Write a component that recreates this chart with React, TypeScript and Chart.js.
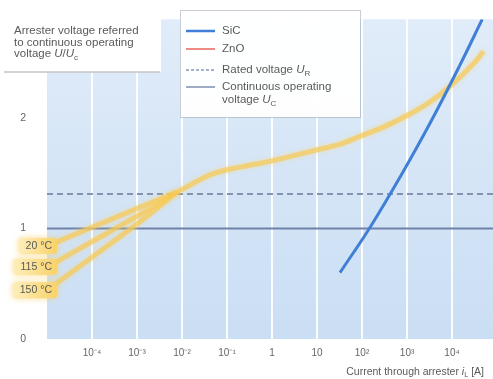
import React, { useEffect, useRef } from "react";
import { Chart, registerables } from "chart.js";
Chart.register(...registerables);

// ---- data (x values are decimal exponents of the current in A) ----
const xTickValues = [1e-4, 1e-3, 1e-2, 1e-1, 1, 10, 100, 1000, 10000];
const xTickLabels = ["10⁻⁴", "10⁻³", "10⁻²", "10⁻¹", "1", "10", "10²", "10³", "10⁴"];
const yTickValues = [0, 1, 2];

const zno20Exp = [-5, -4, -3, -2.1];
const zno20 = [0.84, 1.01, 1.18, 1.33];
const zno115Exp = [-5, -4, -3, -2.1];
const zno115 = [0.65, 0.88, 1.11, 1.33];
const zno150Exp = [-5, -4, -3, -2.1];
const zno150 = [0.44, 0.74, 1.04, 1.33];
const znoExp = [-2.1, -1.4, -1, -0.5, 0, 0.5, 1, 1.5, 2, 2.5, 3, 3.5, 4, 4.5, 4.7];
const zno = [1.33, 1.48, 1.53, 1.57, 1.61, 1.66, 1.71, 1.76, 1.84, 1.92, 2.02, 2.14, 2.3, 2.5, 2.6];
const sicExp = [1.51, 2.18, 2.84, 3.51, 4.18, 4.67];
const sic = [0.6, 1.01, 1.46, 1.95, 2.48, 2.89];
const ratedVoltage = 1.31;
const contVoltage = 1;
const tempLabels = ["20 °C", "115 °C", "150 °C"];

const FONT = '"Liberation Sans", Arial, sans-serif';
const TEXT = "#5a5a5a";
const X_MIN = 1e-5;
const X_MAX = Math.pow(10, 4.91);

const pts = (ex: number[], ys: number[]) => ex.map((e, i) => ({ x: Math.pow(10, e), y: ys[i] }));

type Part = { t: string; it?: boolean; sub?: boolean };
function drawRich(ctx: CanvasRenderingContext2D, parts: Part[], x: number, y: number, size: number, align: "left" | "right" = "left") {
  const fontFor = (p: Part) => `${p.it ? "italic " : ""}${p.sub ? size * 0.7 : size}px ${FONT}`;
  let total = 0;
  for (const p of parts) { ctx.font = fontFor(p); total += ctx.measureText(p.t).width; }
  let cx = align === "right" ? x - total : x;
  ctx.textAlign = "left";
  ctx.textBaseline = "middle";
  for (const p of parts) {
    ctx.font = fontFor(p);
    ctx.fillText(p.t, cx, p.sub ? y + size * 0.3 : y);
    cx += ctx.measureText(p.t).width;
  }
}

const bgPlugin = {
  id: "bg",
  beforeDraw(chart: any) {
    const { ctx, chartArea: a } = chart;
    ctx.save();
    const g = ctx.createLinearGradient(0, a.top, 0, a.bottom);
    g.addColorStop(0, "#e0ecf9");
    g.addColorStop(1, "#cadef4");
    ctx.fillStyle = g;
    ctx.fillRect(a.left, a.top, a.right - a.left, a.bottom - a.top);
    ctx.restore();
  },
};

const glowPlugin = {
  id: "glow",
  beforeDatasetDraw(chart: any, args: any) {
    const ds = chart.data.datasets[args.index];
    if (ds.label && String(ds.label).startsWith("ZnO")) {
      chart.ctx.save();
      chart.ctx.shadowColor = "rgba(252,214,110,0.9)";
      chart.ctx.shadowBlur = 4;
    }
  },
  afterDatasetDraw(chart: any, args: any) {
    const ds = chart.data.datasets[args.index];
    if (ds.label && String(ds.label).startsWith("ZnO")) chart.ctx.restore();
  },
};

const overlayPlugin = {
  id: "overlay",
  afterDraw(chart: any) {
    const { ctx } = chart;
    const ys = chart.scales.y;
    ctx.save();
    // y-axis title box
    ctx.fillStyle = "#ffffff";
    ctx.fillRect(0, 0, 161, 72);
    ctx.strokeStyle = "#c4c4c4";
    ctx.lineWidth = 1.5;
    ctx.beginPath(); ctx.moveTo(4, 72); ctx.lineTo(160, 72); ctx.stroke();
    ctx.fillStyle = TEXT;
    drawRich(ctx, [{ t: "Arrester voltage referred" }], 14, 31, 11.5);
    drawRich(ctx, [{ t: "to continuous operating" }], 14, 42.5, 11.5);
    drawRich(ctx, [{ t: "voltage " }, { t: "U", it: true }, { t: "/" }, { t: "U", it: true }, { t: "c", sub: true }], 14, 54, 11.5);

    // legend box
    ctx.fillStyle = "rgba(255,255,255,0.96)";
    ctx.fillRect(180, 10, 180, 107);
    ctx.strokeStyle = "rgba(150,160,175,0.5)";
    ctx.lineWidth = 1;
    ctx.strokeRect(180.5, 10.5, 180, 107);
    const item = (y: number, color: string, w: number, dash: number[]) => {
      ctx.strokeStyle = color; ctx.lineWidth = w; ctx.setLineDash(dash);
      ctx.beginPath(); ctx.moveTo(186, y); ctx.lineTo(215, y); ctx.stroke();
      ctx.setLineDash([]);
    };
    item(31, "#3f7fd6", 2.5, []);
    item(49, "#ee8c84", 2, []);
    item(70, "#8a98b2", 1.5, [3, 2]);
    item(87, "#7d8fb0", 1.5, []);
    ctx.fillStyle = TEXT;
    drawRich(ctx, [{ t: "SiC" }], 222, 31, 11.5);
    drawRich(ctx, [{ t: "ZnO" }], 222, 49, 11.5);
    drawRich(ctx, [{ t: "Rated voltage " }, { t: "U", it: true }, { t: "R", sub: true }], 222, 70, 11.5);
    drawRich(ctx, [{ t: "Continuous operating" }], 222, 87, 11.5);
    drawRich(ctx, [{ t: "voltage " }, { t: "U", it: true }, { t: "C", sub: true }], 222, 100, 11.5);

    // temperature labels
    const starts = [zno20[0], zno115[0], zno150[0]];
    tempLabels.forEach((lab, i) => {
      const cy = ys.getPixelForValue(starts[i]);
      ctx.font = `10.5px ${FONT}`;
      const tw = ctx.measureText(lab).width;
      const right = 57;
      const left = right - tw - 12;
      const g = ctx.createLinearGradient(left, 0, right, 0);
      g.addColorStop(0, "rgba(253,238,185,1)");
      g.addColorStop(1, "rgba(249,210,105,1)");
      ctx.shadowColor = "rgba(248,205,90,0.7)";
      ctx.shadowBlur = 6;
      ctx.fillStyle = g;
      ctx.beginPath();
      (ctx as any).roundRect(left, cy - 8, right - left, 16, 3);
      ctx.fill();
      ctx.shadowBlur = 0;
      ctx.fillStyle = TEXT;
      drawRich(ctx, [{ t: lab }], right - 5, cy, 10.5, "right");
    });

    // x-axis title
    ctx.fillStyle = TEXT;
    drawRich(ctx, [{ t: "Current through arrester " }, { t: "i", it: true }, { t: "L", sub: true }, { t: " [A]" }], 484, 372, 10.5, "right");
    ctx.restore();
  },
};

export default function App() {
  const ref = useRef<HTMLCanvasElement>(null);
  useEffect(() => {
    const yellow = "rgba(247,198,78,0.62)";
    const chart = new Chart(ref.current!, {
      type: "line",
      data: {
        datasets: [
          { label: "SiC", data: pts(sicExp, sic), borderColor: "#3f7fd6", borderWidth: 3, tension: 0.4, order: 0 },
          { label: "ZnO", data: pts(znoExp, zno), borderColor: yellow, borderWidth: 5, tension: 0.4, order: 1 },
          { label: "ZnO 20", data: pts(zno20Exp, zno20), borderColor: yellow, borderWidth: 5, tension: 0.3, order: 1 },
          { label: "ZnO 115", data: pts(zno115Exp, zno115), borderColor: yellow, borderWidth: 5, tension: 0.3, order: 1 },
          { label: "ZnO 150", data: pts(zno150Exp, zno150), borderColor: yellow, borderWidth: 5, tension: 0.3, order: 1 },
          { label: "Rated voltage", data: [{ x: X_MIN, y: ratedVoltage }, { x: X_MAX, y: ratedVoltage }], borderColor: "#8593ae", borderWidth: 2, borderDash: [6, 4], order: 2 },
          { label: "Continuous operating voltage", data: [{ x: X_MIN, y: contVoltage }, { x: X_MAX, y: contVoltage }], borderColor: "#6f82a8", borderWidth: 2, order: 2 },
        ],
      },
      options: {
        responsive: false,
        animation: false,
        events: [],
        elements: { point: { radius: 0 } },
        layout: { padding: { top: 10, right: 0, left: 0, bottom: 0 } },
        plugins: { legend: { display: false }, tooltip: { enabled: false } },
        scales: {
          x: {
            type: "logarithmic",
            min: X_MIN,
            max: X_MAX,
            afterBuildTicks: (s: any) => { s.ticks = xTickValues.map((v) => ({ value: v })); },
            afterFit: (s: any) => { s.height = 40; },
            ticks: {
              autoSkip: false,
              maxRotation: 0,
              padding: 8,
              color: "#666",
              font: { family: FONT, size: 10 },
              callback: (_v: any, i: number) => xTickLabels[i],
            },
            grid: { color: "rgba(255,255,255,0.9)", lineWidth: 2, drawTicks: false },
            border: { display: false },
          },
          y: {
            type: "linear",
            min: 0,
            max: 2.89,
            afterBuildTicks: (s: any) => { s.ticks = yTickValues.map((v) => ({ value: v })); },
            afterFit: (s: any) => { s.width = 47; },
            ticks: { padding: 13, color: "#666", font: { family: FONT, size: 10.5 } },
            grid: { display: false },
            border: { display: false },
          },
        },
      },
      plugins: [bgPlugin, glowPlugin, overlayPlugin],
    } as any);
    return () => chart.destroy();
  }, []);
  return (
    <div style={{ position: "absolute", left: 0, top: 0, width: 493, height: 379, background: "#fff" }}>
      <canvas ref={ref} width={493} height={379} style={{ display: "block" }} />
    </div>
  );
}
